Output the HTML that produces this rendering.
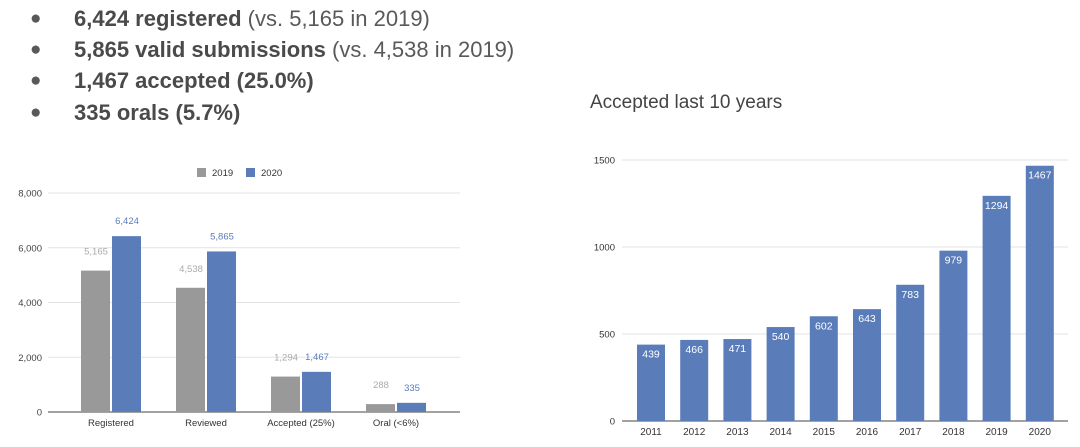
<!DOCTYPE html>
<html><head><meta charset="utf-8"><style>
body{margin:0;width:1080px;height:447px;background:#fff;font-family:"Liberation Sans",Arial,sans-serif;overflow:hidden;position:relative}
.b{position:absolute;left:30px;font-size:22px;color:#595959}
.b span.d{position:absolute;left:0;top:0;font-size:19px;line-height:26px}
.b span.t{position:absolute;left:44px;white-space:nowrap;line-height:26px}
.b b{color:#4a4a4a}
svg{position:absolute;left:0;top:0}
</style></head><body>
<div class="b" style="top:6px"><span class="d">●</span><span class="t"><b>6,424 registered</b> (vs. 5,165 in 2019)</span></div>
<div class="b" style="top:37px"><span class="d">●</span><span class="t"><b>5,865 valid submissions</b> (vs. 4,538 in 2019)</span></div>
<div class="b" style="top:68px"><span class="d">●</span><span class="t"><b>1,467 accepted (25.0%)</b></span></div>
<div class="b" style="top:100px"><span class="d">●</span><span class="t"><b>335 orals (5.7%)</b></span></div>
<div style="position:absolute;left:590px;top:92px;font-size:19px;color:#444">Accepted last 10 years</div>
<svg id="c" width="1080" height="447"></svg>
<script>
const cats=["Registered","Reviewed","Accepted (25%)","Oral (<6%)"];
const v2019=[5165,4538,1294,288];
const v2020=[6424,5865,1467,335];
const lTicks=[0,2000,4000,6000,8000];
const years=["2011","2012","2013","2014","2015","2016","2017","2018","2019","2020"];
const acc=[439,466,471,540,602,643,783,979,1294,1467];
const rTicks=[0,500,1000,1500];
const NS="http://www.w3.org/2000/svg",svg=document.getElementById('c');
function el(t,a,txt){const e=document.createElementNS(NS,t);for(const k in a)e.setAttribute(k,a[k]);if(txt!=null)e.textContent=txt;svg.appendChild(e);return e;}
const fmt=n=>n.toLocaleString('en-US');
// left chart
const ly=v=>412-v*(412-193)/8000, lx=i=>111+i*95;
lTicks.forEach(t=>{const g=el('line',{x1:48,x2:460,y1:ly(t),y2:ly(t),stroke:t?'#e3e3e3':'#444','stroke-width':1});

const l=el('text',{x:42,y:ly(t)+3.5,'text-anchor':'end','font-size':9.5,fill:'#444'},fmt(t));
});
cats.forEach((c,i)=>{
 const a=el('rect',{x:lx(i)-30,y:ly(v2019[i]),width:29,height:ly(0)-ly(v2019[i]),fill:'#999'});
 
 const b=el('rect',{x:lx(i)+1,y:ly(v2020[i]),width:29,height:ly(0)-ly(v2020[i]),fill:'#5a7dba'});
 
 const t1=el('text',{x:lx(i)-15,y:ly(v2019[i])-16,'text-anchor':'middle','font-size':9.5,fill:'#aaa'},fmt(v2019[i]));
 
 const t2=el('text',{x:lx(i)+16,y:ly(v2020[i])-12,'text-anchor':'middle','font-size':9.5,fill:'#5a7dba'},fmt(v2020[i]));
 
 const x=el('text',{x:lx(i),y:426,'text-anchor':'middle','font-size':9.5,fill:'#333'},c);
 
});
let s=el('rect',{x:197,y:168,width:9,height:9,fill:'#999'});
s=el('text',{x:212,y:176,'font-size':9.5,fill:'#333'},'2019');
s=el('rect',{x:246,y:168,width:9,height:9,fill:'#5a7dba'});
s=el('text',{x:261,y:176,'font-size':9.5,fill:'#333'},'2020');
// right chart
const ry=v=>421-v*(421-160)/1500, rx=i=>651+i*43.2;
rTicks.forEach(t=>{const g=el('line',{x1:622,x2:1068,y1:ry(t),y2:ry(t),stroke:t?'#e3e3e3':'#444','stroke-width':1});

const l=el('text',{x:615,y:ry(t)+3.5,'text-anchor':'end','font-size':9.5,fill:'#333'},t);
});
years.forEach((y,i)=>{
 const b=el('rect',{x:rx(i)-14,y:ry(acc[i]),width:28,height:ry(0)-ry(acc[i]),fill:'#5a7dba'});
 
 const t=el('text',{x:rx(i),y:ry(acc[i])+13,'text-anchor':'middle','font-size':10.5,fill:'#fff'},acc[i]);
 
 const x=el('text',{x:rx(i),y:435,'text-anchor':'middle','font-size':10,fill:'#333'},y);
 
});
</script>
</body></html>
